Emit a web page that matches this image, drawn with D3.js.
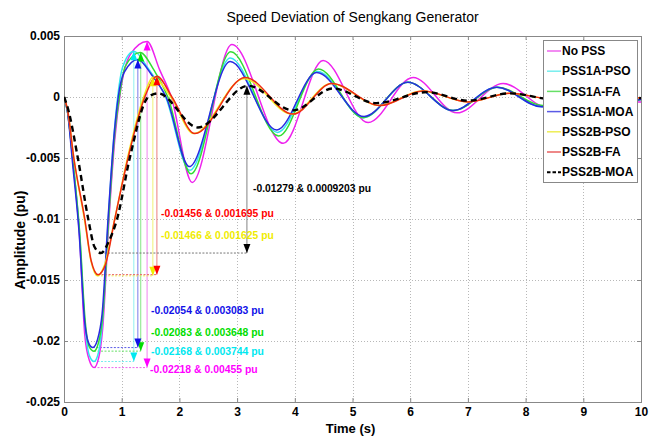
<!DOCTYPE html>
<html>
<head>
<meta charset="utf-8">
<title>Speed Deviation of Sengkang Generator</title>
<script src="https://cdnjs.cloudflare.com/ajax/libs/d3/7.8.5/d3.min.js"></script>
<style>
  body { margin: 0; background: #fff; }
  text { font-family: "Liberation Sans", Arial, sans-serif; }
</style>
</head>
<body>
<svg id="chart" width="658" height="436"></svg>
<script>
// series names (legend order)
const seriesNames = ["No PSS", "PSS1A-PSO", "PSS1A-FA", "PSS1A-MOA", "PSS2B-PSO", "PSS2B-FA", "PSS2B-MOA"];

// [time (s), amplitude (pu)]
const noPss = [[0,0],[0.06,-0.0012],[0.16,-0.0055],[0.27,-0.0115],[0.36,-0.0195],[0.44,-0.0216],[0.52,-0.02218],[0.6,-0.0214],[0.67,-0.019],[0.78,-0.01],[0.88,-0.0035],[0.98,0.0005],[1.15,0.0035],[1.44,0.00455],[1.66,0.0022],[1.86,0],[2.22,-0.007],[2.91,0.0043],[3.8,-0.0038],[4.49,0.003],[5.27,-0.0021],[6.05,0.0016],[6.81,-0.0013],[7.61,0.0011],[8.4,-0.0009],[9.18,0.0006],[9.95,-0.0004],[10,-0.0004]];
const pss1aPso = [[0,0],[0.06,-0.0012],[0.16,-0.0055],[0.27,-0.0112],[0.37,-0.019],[0.44,-0.0212],[0.52,-0.02168],[0.6,-0.0209],[0.66,-0.0188],[0.77,-0.0098],[0.86,-0.0035],[0.93,0],[1.02,0.0025],[1.21,0.003744],[1.45,0.0024],[1.76,0],[2.18,-0.006],[2.88,0.0032],[3.7,-0.0029],[4.4,0.0021],[5.19,-0.0017],[5.96,0.0012],[6.74,-0.0011],[7.5,0.0008],[8.28,-0.0008],[9.05,0.0005],[9.8,-0.0003],[10,-0.0002]];
const pss1aFa = [[0,0],[0.06,-0.0012],[0.16,-0.0055],[0.27,-0.011],[0.37,-0.0185],[0.44,-0.0205],[0.52,-0.02083],[0.6,-0.0201],[0.67,-0.018],[0.78,-0.0095],[0.88,-0.003],[0.96,0],[1.06,0.0025],[1.32,0.003648],[1.56,0.0022],[1.8,0],[2.2,-0.0063],[2.89,0.0037],[3.72,-0.0032],[4.41,0.0023],[5.18,-0.0017],[5.96,0.0012],[6.75,-0.0011],[7.52,0.0008],[8.3,-0.0007],[9.07,0.0005],[9.85,-0.0003],[10,-0.0002]];
const pss1aMoa = [[0,0],[0.06,-0.0012],[0.15,-0.0055],[0.26,-0.011],[0.36,-0.0185],[0.43,-0.0202],[0.5,-0.02054],[0.58,-0.0199],[0.66,-0.0178],[0.77,-0.0095],[0.87,-0.003],[0.94,0],[1.04,0.002],[1.28,0.003083],[1.52,0.0018],[1.77,0],[2.17,-0.0057],[2.88,0.0029],[3.69,-0.0027],[4.38,0.002],[5.2,-0.0016],[5.96,0.0012],[6.74,-0.0011],[7.5,0.0008],[8.28,-0.0008],[9.05,0.0005],[9.8,-0.0003],[10,-0.0002]];
const pss2bPso = [[0,0],[0.06,-0.001],[0.17,-0.005],[0.36,-0.0102],[0.47,-0.0135],[0.58,-0.01466],[0.7,-0.0138],[0.88,-0.01],[1.1,-0.005],[1.38,0],[1.54,0.001625],[1.85,0],[2.25,-0.003],[3.12,0.0015],[3.95,-0.0014],[4.63,0.0011],[5.47,-0.0007],[6.2,0.0005],[7.0,-0.0004],[7.72,0.0003],[8.5,-0.0002],[9.25,0.0002],[10,-0.0001]];
const pss2bFa = [[0,0],[0.06,-0.001],[0.17,-0.005],[0.36,-0.01],[0.47,-0.0134],[0.59,-0.01456],[0.72,-0.0137],[0.88,-0.01],[1.11,-0.005],[1.4,0],[1.61,0.001695],[1.87,0],[2.27,-0.003],[3.14,0.0016],[3.97,-0.0014],[4.64,0.0011],[5.48,-0.0007],[6.22,0.0005],[7.0,-0.0004],[7.73,0.0003],[8.5,-0.0002],[9.25,0.0002],[10,-0.0001]];
const pss2bMoa = [[0,0],[0.06,-0.0008],[0.24,-0.005],[0.42,-0.01],[0.53,-0.0123],[0.64,-0.01279],[0.78,-0.0118],[0.92,-0.01],[1.14,-0.005],[1.46,0],[1.63,0.0003],[2.32,-0.0025],[3.19,0.00092],[3.97,-0.0011],[4.66,0.0007],[5.41,-0.0005],[6.29,0.0004],[7.0,-0.0003],[7.73,0.0003],[8.5,-0.0002],[9.25,0.0002],[10,-0.0001]];

// annotation values: first-swing minimum and maximum of each case
const annTrough = [-0.02218, -0.02168, -0.02083, -0.02054, -0.01466, -0.01456, -0.01279];
const annPeak = [0.00455, 0.003744, 0.003648, 0.003083, 0.001625, 0.001695, 0.0009203];
const annTroughTime = [0.52, 0.52, 0.52, 0.5, 0.58, 0.59, 0.64];
const annPeakTime = [1.44, 1.21, 1.33, 1.28, 1.54, 1.61, 3.17];
const annPeakLabel = ["0.00455", "0.003744", "0.003648", "0.003083", "0.001625", "0.001695", "0.0009203"];

// axis ticks
const xTicks = [0, 1, 2, 3, 4, 5, 6, 7, 8, 9, 10];
const yTicks = [0.005, 0, -0.005, -0.01, -0.015, -0.02, -0.025];
const yTickLabels = ["0.005", "0", "-0.005", "-0.01", "-0.015", "-0.02", "-0.025"];

const allSeries = [noPss, pss1aPso, pss1aFa, pss1aMoa, pss2bPso, pss2bFa, pss2bMoa];

// styles
const lineColors = ["#ee22ee", "#33e6ee", "#33dd33", "#2a2ae0", "#f2ee22", "#ee2a14", "#000000"];
const textColors = ["#ff00ff", "#00e8f0", "#00dd00", "#1010e8", "#f0ec00", "#ff0000", "#000000"];
const legendColors = ["#ee66ee", "#77eeee", "#66e066", "#5a5ae6", "#eeee55", "#e86060", "#000000"];
// label layout: [x, y centre]
const labelPos = [[150, 369], [151, 351], [151, 332], [151, 310], [161, 235], [161, 213], [253, 188]];

const svg = d3.select("#chart");
const W = 658, H = 436;
const plot = { left: 64, right: 641, top: 36, bottom: 402 };

const x = d3.scaleLinear().domain([0, 10]).range([plot.left, plot.right]);
const y = d3.scaleLinear().domain([-0.025, 0.005]).range([plot.bottom, plot.top]);

svg.append("rect").attr("width", W).attr("height", H).attr("fill", "#fff");

// grid
const grid = svg.append("g").attr("stroke", "#b8b8b8").attr("stroke-width", 1).attr("stroke-dasharray", "1,2");
grid.selectAll(".gx").data(xTicks.slice(1, -1)).join("line")
  .attr("x1", d => Math.round(x(d)) + 0.5).attr("x2", d => Math.round(x(d)) + 0.5)
  .attr("y1", plot.top).attr("y2", plot.bottom);
grid.selectAll(".gy").data(yTicks.slice(1, -1)).join("line")
  .attr("class", "gy")
  .attr("x1", plot.left).attr("x2", plot.right)
  .attr("y1", d => Math.round(y(d)) + 0.5).attr("y2", d => Math.round(y(d)) + 0.5);

// axes (ticks inward, on all sides)
const axisStyle = g => {
  g.select(".domain").remove();
  g.selectAll(".tick line").attr("stroke", "#888");
  g.selectAll("text").attr("font-size", 12).attr("font-weight", "bold").attr("fill", "#000");
};
svg.append("g").attr("transform", `translate(0,${plot.bottom})`)
  .call(d3.axisBottom(x).tickValues(xTicks).tickSize(-4).tickPadding(5).tickFormat(d3.format("d")))
  .call(axisStyle);
svg.append("g").attr("transform", `translate(0,${plot.top})`)
  .call(d3.axisTop(x).tickValues(xTicks).tickSize(-4).tickFormat(""))
  .call(axisStyle);
svg.append("g").attr("transform", `translate(${plot.left},0)`)
  .call(d3.axisLeft(y).tickValues(yTicks).tickSize(-4).tickPadding(4).tickFormat((d, i) => yTickLabels[i]))
  .call(axisStyle);
svg.append("g").attr("transform", `translate(${plot.right},0)`)
  .call(d3.axisRight(y).tickValues(yTicks).tickSize(-4).tickFormat(""))
  .call(axisStyle);

svg.append("rect")
  .attr("x", plot.left + 0.5).attr("y", plot.top + 0.5)
  .attr("width", plot.right - plot.left).attr("height", plot.bottom - plot.top)
  .attr("fill", "none").attr("stroke", "#888");

// clip
svg.append("clipPath").attr("id", "clip").append("rect")
  .attr("x", plot.left).attr("y", plot.top)
  .attr("width", plot.right - plot.left).attr("height", plot.bottom - plot.top);

// annotation guides (behind the curves)
const ann = svg.append("g").attr("clip-path", "url(#clip)");
seriesNames.forEach((name, i) => {
  const xp = x(annPeakTime[i]);
  const yp = y(annPeak[i]);
  const yt = y(annTrough[i]);
  ann.append("line")
    .attr("x1", x(annTroughTime[i])).attr("x2", xp)
    .attr("y1", yt).attr("y2", yt)
    .attr("stroke", i === 6 ? "#777" : legendColors[i]).attr("stroke-width", 1)
    .attr("stroke-dasharray", "2,1.5");
  ann.append("line")
    .attr("x1", xp).attr("x2", xp)
    .attr("y1", yp).attr("y2", yt)
    .attr("stroke", i === 6 ? "#666" : legendColors[i]).attr("stroke-width", 1)
    .attr("opacity", 0.8);
});

// curves
const line = d3.line()
  .x(d => x(d[0]))
  .y(d => y(d[1]))
  .curve(d3.curveMonotoneX);

const curves = svg.append("g").attr("clip-path", "url(#clip)");
allSeries.forEach((data, i) => {
  curves.append("path")
    .datum(data)
    .attr("d", line)
    .attr("fill", "none")
    .attr("stroke", lineColors[i])
    .attr("stroke-width", i === 6 ? 2.4 : 1.5)
    .attr("stroke-dasharray", i === 6 ? "6,4" : null);
});

// arrowheads
const arrows = svg.append("g");
seriesNames.forEach((name, i) => {
  const xp = x(annPeakTime[i]);
  const yp = y(annPeak[i]);
  const yt = y(annTrough[i]);
  arrows.append("path")
    .attr("d", `M${xp},${yp} L${xp - 3.5},${yp + 9} L${xp + 3.5},${yp + 9} Z`)
    .attr("fill", textColors[i]);
  arrows.append("path")
    .attr("d", `M${xp},${yt} L${xp - 3.5},${yt - 9} L${xp + 3.5},${yt - 9} Z`)
    .attr("fill", textColors[i]);
});

// annotation labels
seriesNames.forEach((name, i) => {
  const label = `${annTrough[i]} & ${annPeakLabel[i]} pu`;
  svg.append("text")
    .attr("x", labelPos[i][0]).attr("y", labelPos[i][1])
    .attr("dy", "0.35em")
    .attr("font-size", 11).attr("font-weight", "bold")
    .attr("fill", textColors[i])
    .attr("textLength", label.length * 5.13)
    .attr("lengthAdjust", "spacingAndGlyphs")
    .text(label);
});

// legend
const lg = svg.append("g");
lg.append("rect")
  .attr("x", 543.5).attr("y", 40.5).attr("width", 94).attr("height", 142)
  .attr("fill", "#fff").attr("stroke", "#888");
seriesNames.forEach((name, i) => {
  const ly = 51 + i * 20.2;
  lg.append("line")
    .attr("x1", 547).attr("x2", 561).attr("y1", ly).attr("y2", ly)
    .attr("stroke", legendColors[i]).attr("stroke-width", i === 6 ? 2 : 1.5)
    .attr("stroke-dasharray", i === 6 ? "3.5,2" : null);
  lg.append("text")
    .attr("x", 562).attr("y", ly).attr("dy", "0.35em")
    .attr("font-size", 12).attr("font-weight", "bold")
    .text(name);
});

// titles
svg.append("text")
  .attr("x", (plot.left + plot.right) / 2).attr("y", 17).attr("dy", "0.35em")
  .attr("text-anchor", "middle").attr("font-size", 14)
  .text("Speed Deviation of Sengkang Generator");
svg.append("text")
  .attr("x", (plot.left + plot.right) / 2 - 2).attr("y", 428).attr("dy", "0.35em")
  .attr("text-anchor", "middle").attr("font-size", 13).attr("font-weight", "bold")
  .text("Time (s)");
svg.append("text")
  .attr("transform", "translate(20,240) rotate(-90)").attr("dy", "0.35em")
  .attr("text-anchor", "middle").attr("font-size", 14).attr("font-weight", "bold")
  .text("Amplitude (pu)");
</script>
</body>
</html>
